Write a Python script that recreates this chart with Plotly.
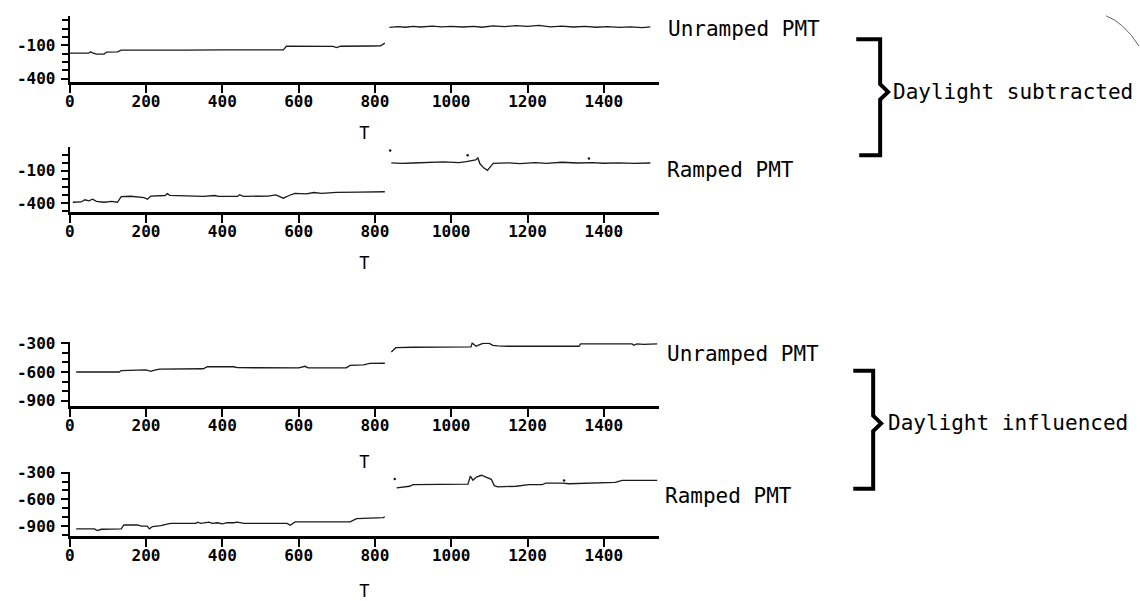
import plotly.graph_objects as go

W, H = 1140, 601

# ---- shared axis ticks -------------------------------------------------
t_ticks = [0, 200, 400, 600, 800, 1000, 1200, 1400]
t_labels = ["0", "200", "400", "600", "800", "1000", "1200", "1400"]
sub_ticks = [-100, -400]
sub_labels = ["-100", "-400"]
inf_ticks = [-300, -600, -900]
inf_labels = ["-300", "-600", "-900"]

# ---- daylight subtracted, unramped PMT -----------------------------------
sub_unramped_t = [0, 50, 55, 60, 70, 90, 97, 125, 135, 220, 300, 400, 480, 560, 568,
                  640, 690, 700, 710, 790, 815, 826, None,
                  838, 860, 880, 900, 920, 950, 975, 1000, 1030, 1060, 1080, 1110, 1140,
                  1170, 1200, 1230, 1260, 1290, 1320, 1350, 1380, 1410, 1440, 1470, 1500, 1522]
sub_unramped_v = [-170, -170, -158, -168, -178, -178, -160, -158, -143, -145, -143, -140, -142, -140, -108,
                  -110, -110, -120, -108, -106, -104, -80, None,
                  60, 68, 62, 70, 64, 72, 66, 70, 64, 70, 62, 74, 68,
                  76, 70, 78, 66, 72, 64, 70, 62, 68, 60, 66, 58, 66]

# ---- daylight subtracted, ramped PMT -------------------------------------
sub_ramped_t = [8, 30, 40, 50, 60, 70, 90, 110, 125, 135, 160, 180, 195, 204, 212, 250, 256, 262,
                350, 380, 390, 440, 445, 455, 520, 540, 560, 575, 590, 620, 640, 660, 700, 760, 826, None,
                843, 870, 900, 940, 980, 1020, 1040, 1064, 1070, 1075, 1085, 1095, 1100, 1110, 1150,
                1180, 1220, 1250, 1290, 1330, 1370, 1400, 1440, 1480, 1522]
sub_ramped_v = [-393, -390, -370, -380, -365, -385, -393, -385, -393, -340, -337, -348, -350, -365, -335, -330, -312, -328,
                -338, -330, -338, -338, -322, -338, -335, -325, -355, -330, -310, -315, -302, -310, -300, -298, -295, None,
                -25, -30, -27, -20, -17, -23, -15, 2, 20, -32, -72, -95, -72, -30, -25,
                -33, -23, -30, -20, -27, -23, -29, -25, -31, -27]
sub_ramped_dots_t = [840, 1043, 1361]
sub_ramped_dots_v = [90, 45, 15]

# ---- daylight influenced, unramped PMT -----------------------------------
inf_unramped_t = [17, 100, 130, 135, 190, 200, 213, 220, 235, 300, 350, 361, 385, 396, 430, 439,
                  600, 617, 625, 725, 735, 770, 787, 810, 826, None,
                  843, 855, 900, 1000, 1052, 1055, 1065, 1070, 1083, 1100, 1109, 1122, 1148,
                  1335, 1339, 1474, 1478, 1487, 1504, 1540]
inf_unramped_v = [-600, -602, -600, -585, -583, -578, -593, -583, -570, -568, -566, -545, -550, -545, -545, -555,
                  -556, -540, -556, -556, -530, -525, -510, -505, -508, None,
                  -390, -345, -340, -338, -336, -295, -330, -321, -300, -300, -321, -325, -330,
                  -330, -305, -305, -320, -305, -310, -305]

# ---- daylight influenced, ramped PMT -------------------------------------
inf_ramped_t = [17, 65, 72, 83, 135, 142, 178, 187, 203, 209, 217, 239, 252, 261, 265, 331, 335, 344,
                365, 374, 387, 400, 413, 430, 439, 457, 570, 578, 591, 735, 743, 752, 822, 826, None,
                857, 891, 900, 1039, 1044, 1050, 1057, 1066, 1079, 1088, 1096, 1105, 1113, 1122,
                1170, 1204, 1239, 1248, 1291, 1309, 1430, 1448, 1540]
inf_ramped_v = [-931, -931, -950, -935, -931, -887, -887, -900, -900, -930, -905, -895, -880, -875, -869, -869, -855, -869,
                -855, -869, -862, -875, -860, -862, -855, -869, -869, -890, -852, -852, -830, -815, -805, -795, None,
                -472, -453, -435, -435, -430, -340, -385, -350, -330, -345, -360, -375, -446, -460,
                -453, -435, -435, -417, -417, -425, -410, -388, -388]
inf_ramped_dots_t = [852, 1296]
inf_ramped_dots_v = [-373, -390]


def px_x(x):
    return x / W


def px_y(y):
    return 1 - y / H


LINE = dict(color="#1a1a1a", width=1.3)
DOT = dict(color="#1a1a1a", size=2.5)
TICKFONT = dict(family="DejaVu Sans Mono", size=16, color="black", weight="bold")
LABELFONT = dict(family="DejaVu Sans Mono", size=21, color="black")

fig = go.Figure()

panels = [
    # (t, v, dots_t, dots_v, y-range, top px, bottom px, ticks, labels, minor step, title standoff)
    (sub_unramped_t, sub_unramped_v, None, None, [-429, 164], 7, 75, sub_ticks, sub_labels, 75, 18),
    (sub_ramped_t, sub_ramped_v, sub_ramped_dots_t, sub_ramped_dots_v, [-482, 118], 142, 208, sub_ticks, sub_labels, 75, 18),
    (inf_unramped_t, inf_unramped_v, None, None, [-955, -290], 342, 407, inf_ticks, inf_labels, 100, 23),
    (inf_ramped_t, inf_ramped_v, inf_ramped_dots_t, inf_ramped_dots_v, [-1016, -295], 475, 541, inf_ticks, inf_labels, 100, 23),
]

x_dom = [px_x(65), px_x(657)]

for i, (t, v, dt, dv, yr, top, bot, yt, yl, mstep, tstand) in enumerate(panels, start=1):
    xa = "x" if i == 1 else f"x{i}"
    ya = "y" if i == 1 else f"y{i}"
    fig.add_trace(go.Scatter(x=t, y=v, mode="lines", line=LINE, xaxis=xa, yaxis=ya,
                             connectgaps=False, showlegend=False, hoverinfo="skip"))
    if dt is not None:
        fig.add_trace(go.Scatter(x=dt, y=dv, mode="markers", marker=DOT, xaxis=xa, yaxis=ya,
                                 showlegend=False, hoverinfo="skip"))
    xkey = "xaxis" if i == 1 else f"xaxis{i}"
    ykey = "yaxis" if i == 1 else f"yaxis{i}"
    fig.update_layout(**{
        xkey: dict(
            domain=x_dom, anchor=ya, range=[0, 1545],
            showline=True, linecolor="black", linewidth=2.5,
            ticks="outside", ticklen=8, tickwidth=1.5, tickcolor="black",
            tickmode="array", tickvals=t_ticks, ticktext=t_labels,
            tickfont=TICKFONT, ticklabelstandoff=-5,
            showgrid=False, zeroline=False,
            title=dict(text="T", font=dict(family="DejaVu Sans Mono", size=17, color="black"), standoff=tstand),
        ),
        ykey: dict(
            domain=[px_y(bot), px_y(top)], anchor=xa, range=yr,
            showline=True, linecolor="black", linewidth=2,
            ticks="outside", ticklen=7, tickwidth=1.5, tickcolor="black",
            tickmode="array", tickvals=yt, ticktext=yl,
            tickfont=TICKFONT, ticklabelstandoff=2,
            minor=dict(tickmode="linear", tick0=yt[0], dtick=mstep, ticks="outside",
                       ticklen=6, tickwidth=1.5, tickcolor="black", showgrid=False),
            showgrid=False, zeroline=False,
        ),
    })

# ---- right-hand labels ---------------------------------------------------
labels = [
    ("Unramped PMT", 664, 20),
    ("Ramped PMT", 663, 165),
    ("Daylight subtracted", 890, 85),
    ("Unramped PMT", 663, 354),
    ("Ramped PMT", 661, 499),
    ("Daylight influenced", 885, 425),
]
for text, x, y in labels:
    fig.add_annotation(text=text, x=px_x(x), y=px_y(y), xref="paper", yref="paper",
                       xanchor="left", yanchor="middle", showarrow=False, font=LABELFONT)


def brace(x_end, x_bar, x_tip, y_top, y_bot, y_tip, x_end_bot):
    pts = [(x_end, y_top), (x_bar, y_top), (x_bar, y_tip - 8), (x_tip, y_tip),
           (x_bar, y_tip + 8), (x_bar, y_bot), (x_end_bot, y_bot)]
    return "M " + " L ".join(f"{px_x(a):.5f},{px_y(b):.5f}" for a, b in pts)


fig.add_shape(type="path", xref="paper", yref="paper",
              path=brace(855, 879, 887, 31, 150, 85, 858),
              line=dict(color="black", width=4))
fig.add_shape(type="path", xref="paper", yref="paper",
              path=brace(852, 872, 880, 371, 492, 425, 852),
              line=dict(color="black", width=4))

# faint pen stroke in the upper right corner
fig.add_shape(type="path", xref="paper", yref="paper",
              path=f"M {px_x(1106):.5f},{px_y(7):.5f} Q {px_x(1124):.5f},{px_y(14):.5f} {px_x(1139):.5f},{px_y(38):.5f}",
              line=dict(color="#666666", width=1))

fig.update_layout(
    width=W, height=H, autosize=False,
    margin=dict(l=0, r=0, t=0, b=0),
    paper_bgcolor="white", plot_bgcolor="white",
    showlegend=False,
)

fig.write_html("out.html")
